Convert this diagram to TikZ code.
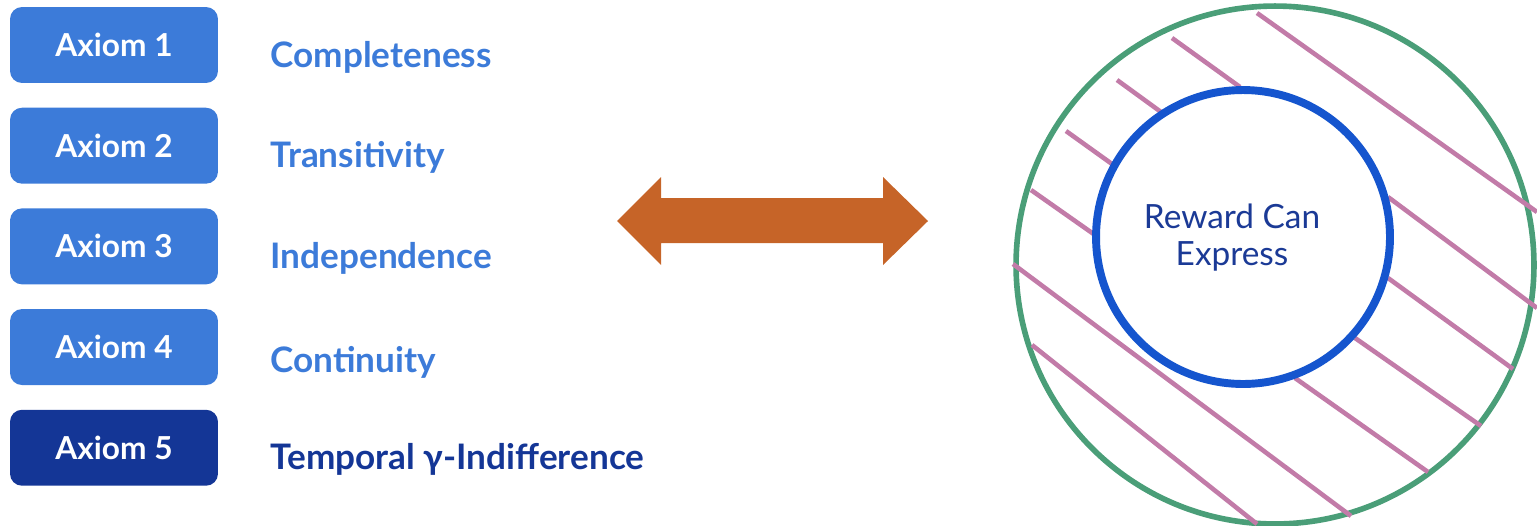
\documentclass[tikz,border=0pt]{standalone}
\usepackage{fontspec}
\setsansfont{Lato}
\usetikzlibrary{positioning}

\definecolor{axblue}{RGB}{60,123,217}
\definecolor{axdark}{RGB}{20,54,150}
\definecolor{arrorange}{RGB}{198,100,40}
\definecolor{ringgreen}{RGB}{74,158,120}
\definecolor{hatchpink}{RGB}{194,123,168}
\definecolor{coreblue}{RGB}{21,85,206}
\definecolor{coretext}{RGB}{27,58,150}

\begin{document}
\begin{tikzpicture}[x=0.02cm, y=-0.02cm,
  axbox/.style={fill=axblue, rounded corners=0.24cm, minimum width=4.16cm,
                minimum height=1.52cm, inner sep=0pt, text=white,
                font=\sffamily\bfseries\fontsize{18}{22}\selectfont},
  prop/.style={inner sep=0pt, text=axblue, yshift=-0.24cm,
               font=\sffamily\bfseries\fontsize{20}{24}\selectfont},
  hatch/.style={draw=hatchpink, line width=2.6pt},
  node distance=0.48cm and 1.04cm
]
  \useasboundingbox (0,0) rectangle (1537,525);

  % Axioms
  \node[axbox] (ax1) at (114,45) {Axiom 1};
  \node[axbox, below=of ax1] (ax2) {Axiom 2};
  \node[axbox, below=of ax2] (ax3) {Axiom 3};
  \node[axbox, below=of ax3] (ax4) {Axiom 4};
  \node[axbox, fill=axdark, below=of ax4] (ax5) {Axiom 5};

  % Names of the axioms
  \node[prop, right=of ax1] (compl) {Completeness};
  \node[prop, right=of ax2] (trans) {Transitivity};
  \node[prop, right=of ax3] (indep) {Independence};
  \node[prop, right=of ax4, yshift=-0.06cm] (contin) {Continuity};
  \node[prop, text=axdark, right=of ax5] (tempo) {Temporal γ-Indifference};

  % Two-headed arrow
  \fill[arrorange] (617,221) -- (661,177) -- (661,198) -- (883,198)
    -- (883,177) -- (928,221) -- (883,265) -- (883,243) -- (661,243)
    -- (661,265) -- cycle;

  % Outer ring with hatching
  \node[circle, draw=ringgreen, line width=3.2pt, minimum size=10.36cm,
        inner sep=0pt] (ring) at (1275,265) {};
  \draw[hatch] (1257,13) -- (1537,212);
  \draw[hatch] (1172,38) -- (1240,87);
  \draw[hatch] (1117,80) -- (1161,112);
  \draw[hatch] (1066,131) -- (1112,164);
  \draw[hatch] (1031,190) -- (1095,235);
  \draw[hatch] (1388,197) -- (1537,308);
  \draw[hatch] (1388,278) -- (1513,369);
  \draw[hatch] (1355,338) -- (1481,426);
  \draw[hatch] (1295,378) -- (1428,472);
  \draw[hatch] (1013,264) -- (1351,516);
  \draw[hatch] (1032,345) -- (1257,524);

  % Inner circle
  \node[circle, draw=coreblue, fill=white, line width=4.5pt,
        minimum size=5.88cm, inner sep=0pt] (core) at (1243,237) {};
  \node[align=center, text=coretext,
        font=\sffamily\fontsize{19}{21}\selectfont] (coretxt) at (1232,238)
       {Reward Can\\Express};
\end{tikzpicture}
\end{document}
